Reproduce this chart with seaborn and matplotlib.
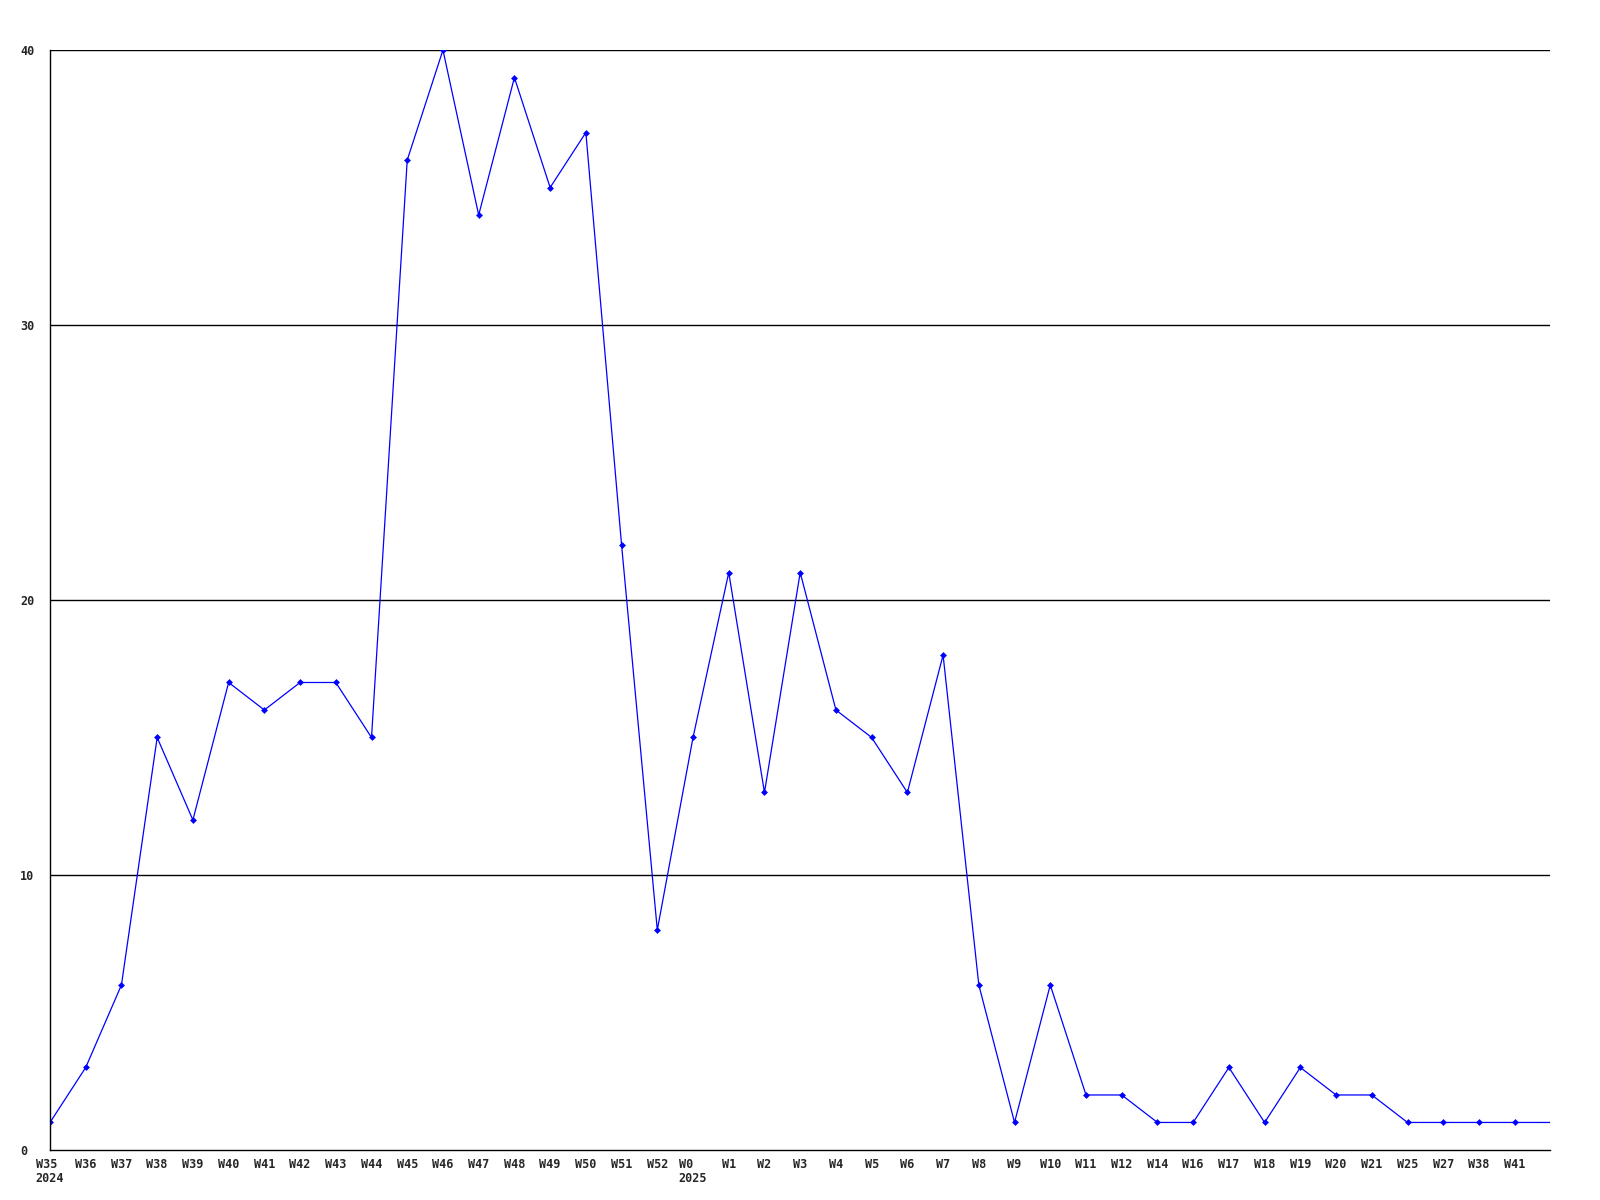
import pandas as pd
import matplotlib
matplotlib.use("Agg")
import matplotlib.pyplot as plt
import seaborn as sns

# weekly counts, last value continues to the edge of the plot (no tick label)
weeks = ["W35", "W36", "W37", "W38", "W39", "W40", "W41", "W42", "W43", "W44",
         "W45", "W46", "W47", "W48", "W49", "W50", "W51", "W52", "W0", "W1",
         "W2", "W3", "W4", "W5", "W6", "W7", "W8", "W9", "W10", "W11",
         "W12", "W14", "W16", "W17", "W18", "W19", "W20", "W21", "W25", "W27",
         "W38", "W41", ""]
years = {"W35": "2024", "W0": "2025"}
counts = [1, 3, 6, 15, 12, 17, 16, 17, 17, 15,
          36, 40, 34, 39, 35, 37, 22, 8, 15, 21,
          13, 21, 16, 15, 13, 18, 6, 1, 6, 2,
          2, 1, 1, 3, 1, 3, 2, 2, 1, 1,
          1, 1, 1]
y_ticks = [0, 10, 20, 30, 40]

df = pd.DataFrame({"pos": range(len(counts)), "count": counts})

sns.set_style("white")
plt.rcParams['font.family'] = ['DejaVu Sans Mono']

fig = plt.figure(figsize=(16, 12), dpi=100)
ax = fig.add_axes([0.03125, 0.0417, 0.969 - 0.03125, 0.9583 - 0.0417])

sns.lineplot(data=df, x="pos", y="count", ax=ax, color="#0000ff", lw=0.9,
             marker="D", markersize=3.5, markeredgewidth=0,
             markevery=list(range(len(counts) - 1)))

for v in y_ticks[1:]:
    ax.axhline(v, color="black", lw=1, zorder=0)

ax.set_xlim(0, len(counts) - 1)
ax.set_ylim(0, 40)
ax.set_yticks(y_ticks)
ax.set_yticklabels([str(v) for v in y_ticks], fontsize=8.5, fontweight="bold",
                   ha="left")

labels = [w + ("\n" + years[w] if w in years else "") for w in weeks[:-1]]
ax.set_xticks(range(len(weeks) - 1))
ax.set_xticklabels(labels, fontsize=8.5, fontweight="bold",
                   multialignment="left", va="top", linespacing=1.1)
ax.tick_params(axis="x", length=0, pad=6)
ax.tick_params(axis="y", length=0, pad=21.5)

for s in ["top", "right"]:
    ax.spines[s].set_visible(False)
for s in ["left", "bottom"]:
    ax.spines[s].set_color("black")
    ax.spines[s].set_linewidth(1)

ax.set_xlabel("")
ax.set_ylabel("")

fig.savefig("out.png", dpi=100, facecolor="white")
